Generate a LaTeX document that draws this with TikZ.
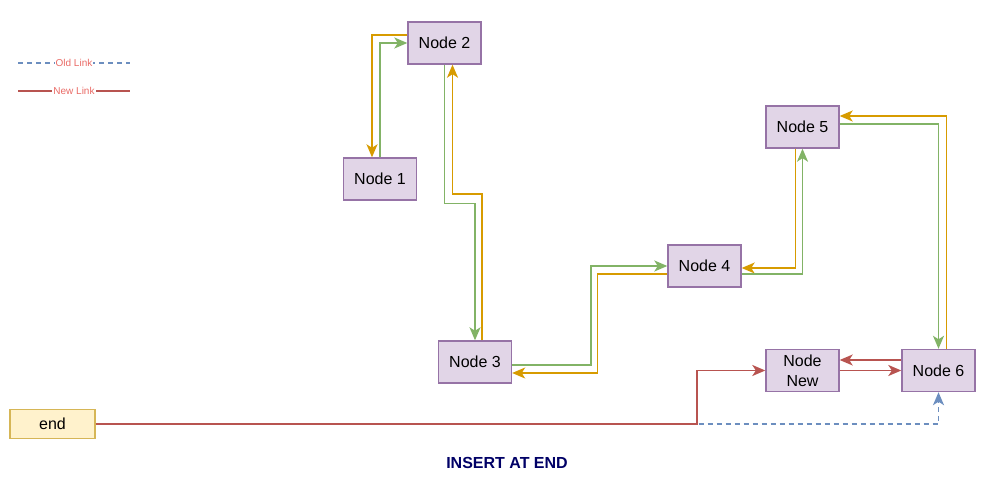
\documentclass[tikz,border=0pt]{standalone}
\usepackage{fontspec}
\setmainfont{Liberation Sans}
\usetikzlibrary{arrows.meta}
\definecolor{boxfill}{HTML}{E1D5E7}
\definecolor{boxline}{HTML}{9673A6}
\definecolor{endfill}{HTML}{FFF2CC}
\definecolor{endline}{HTML}{D6B656}
\definecolor{fwd}{HTML}{82B366}
\definecolor{bwd}{HTML}{D79B00}
\definecolor{newlink}{HTML}{B85450}
\definecolor{oldlink}{HTML}{6C8EBF}
\definecolor{legtext}{HTML}{EA6B66}
\definecolor{titlecol}{HTML}{000066}
\begin{document}
\begin{tikzpicture}[x=1pt, y=-1pt,
    listnode/.style={draw=boxline, fill=boxfill, line width=1.4pt, minimum width=73pt,
      minimum height=42pt, inner sep=0pt, align=center, font=\fontsize{16}{20}\selectfont},
    endnode/.style={draw=endline, fill=endfill, line width=1.4pt, minimum width=85pt,
      minimum height=29pt, inner sep=0pt, font=\fontsize{16}{20}\selectfont},
    link/.style={line width=1.6pt, -{Stealth[length=13pt, width=11pt, inset=3.5pt]}},
    gn/.style={link, fwd},
    og/.style={link, bwd},
    rd/.style={link, newlink},
    old/.style={link, oldlink, dash pattern=on 5pt off 4pt}]
  \useasboundingbox (0,0) rectangle (982,486);
  % nodes of the list
  \node[listnode] (n1) at (380,179) {Node 1};
  \node[listnode] (n2) at (444.5,43) {Node 2};
  \node[listnode] (n3) at (475,362) {Node 3};
  \node[listnode] (n4) at (704.5,266) {Node 4};
  \node[listnode] (n5) at (802.5,127) {Node 5};
  \node[listnode] (nn) at (802.5,370.5) {Node\\New};
  \node[listnode] (n6) at (938.5,370.5) {Node 6};
  \node[endnode] (end) at (52.5,424) {end};
  \node[font=\fontsize{16}{20}\selectfont\bfseries, text=titlecol] (title) at (507,463) {INSERT AT END};
  % legend
  \coordinate (oa) at (18,63);
  \coordinate (ob) at (130,63);
  \coordinate (na) at (18,91);
  \coordinate (nb) at (130,91);
  \draw[oldlink, line width=1.6pt, dash pattern=on 5pt off 4pt] (oa) -- (ob)
    node[midway, fill=white, inner sep=1pt, text=legtext, font=\fontsize{10}{12}\selectfont] {Old Link};
  \draw[newlink, line width=1.6pt] (na) -- (nb)
    node[midway, fill=white, inner sep=1pt, text=legtext, font=\fontsize{10}{12}\selectfont] {New Link};
  % links 1 <-> 2
  \draw[og] ([yshift=8pt]n2.west) -| ([xshift=-8pt]n1.north);
  \draw[gn] (n1.north) |- (n2.west);
  % links 2 <-> 3
  \draw[gn] (n2.south) -- ++(0,139) -| (n3.north);
  \draw[og] ([xshift=7pt]n3.north) -- ++(0,-146) -| ([xshift=8pt]n2.south);
  % links 3 <-> 4
  \draw[gn] ([yshift=-3pt]n3.east) -- ++(78.5,0) |- (n4.west);
  \draw[og] ([yshift=-8pt]n4.west) -- ++(-70,0) |- ([yshift=-11pt]n3.east);
  % links 4 <-> 5
  \draw[og] ([xshift=-7pt]n5.south) |- ([yshift=-2pt]n4.east);
  \draw[gn] ([yshift=-8pt]n4.east) -| (n5.south);
  % links 5 <-> 6
  \draw[og] ([xshift=8pt]n6.north) |- ([yshift=11pt]n5.east);
  \draw[gn] ([yshift=3pt]n5.east) -| (n6.north);
  % new node
  \draw[old] (end.east) -| (n6.south);
  \draw[rd] (end.east) -- ++(601,0) |- (nn.west);
  \draw[rd] ([yshift=10.5pt]n6.west) -- ([yshift=10.5pt]nn.east);
  \draw[rd] (nn.east) -- (n6.west);
\end{tikzpicture}
\end{document}
